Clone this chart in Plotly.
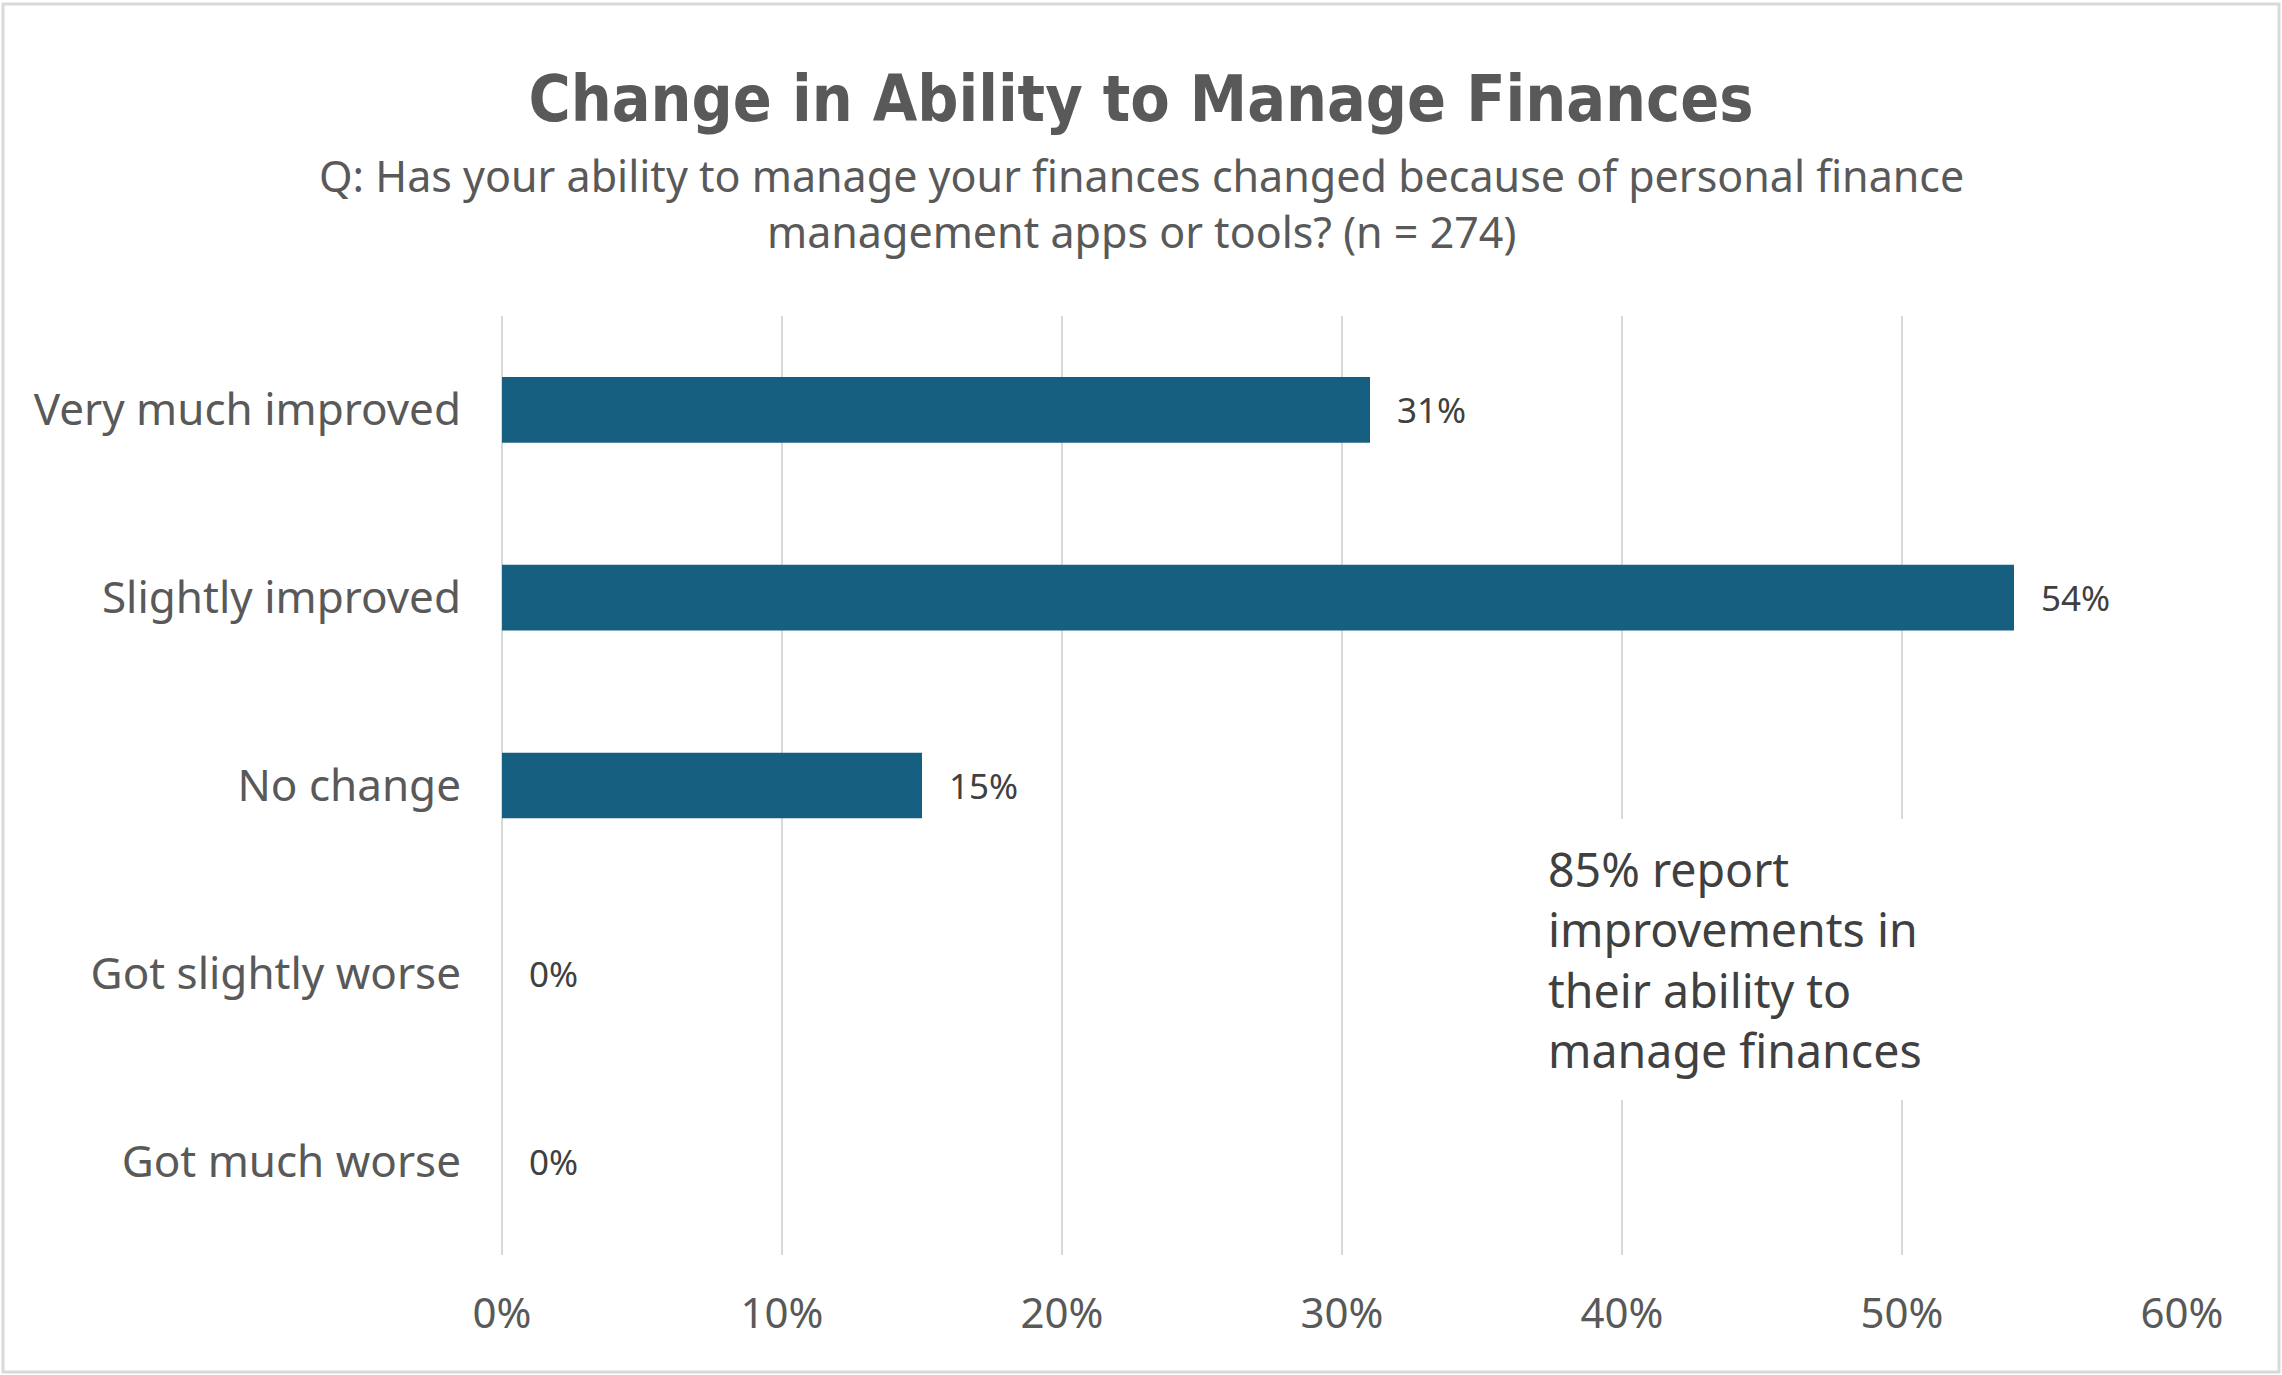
import plotly.graph_objects as go

categories = ["Very much improved", "Slightly improved", "No change", "Got slightly worse", "Got much worse"]
values = [0.31, 0.54, 0.15, 0.0, 0.0]
value_labels = ["31%", "54%", "15%", "0%", "0%"]
tick_vals = [0, 0.1, 0.2, 0.3, 0.4, 0.5, 0.6]
tick_text = ["0%", "10%", "20%", "30%", "40%", "50%", "60%"]

title_text = "Change in Ability to Manage Finances"
subtitle_text = "Q: Has your ability to manage your finances changed because of personal finance<br>management apps or tools? (n = 274)"
callout_text = "85% report<br>improvements in<br>their ability to<br>manage finances"

W, H = 2282, 1375
ML, MR, MT, MB = 502, 100, 316, 120
PW, PH = W - ML - MR, H - MT - MB

BAR = "#175F80"
GRID = "#D9D9D9"
TXT = "#595959"

fig = go.Figure()
fig.add_trace(go.Bar(
    x=values, y=categories, orientation="h",
    marker=dict(color=BAR, line=dict(width=0)),
    hoverinfo="skip",
))

for v, c, t in zip(values, categories, value_labels):
    fig.add_annotation(x=v, y=c, xref="x", yref="y", text=t, showarrow=False,
                       xanchor="left", yanchor="middle", xshift=25,
                       font=dict(family="Noto Sans", size=35, color="#404040"))

fig.add_annotation(xref="paper", yref="paper", x=(W / 2 - ML) / PW, y=(MT + PH - 203) / PH,
                   text=subtitle_text, showarrow=False, xanchor="center", yanchor="middle",
                   font=dict(family="Noto Sans", size=43, color=TXT))

fig.add_annotation(xref="paper", yref="paper", x=(1530 - ML) / PW, y=(MT + PH - 959) / PH,
                   text=callout_text, showarrow=False, xanchor="left", yanchor="middle", align="left",
                   bgcolor="white", borderpad=18, borderwidth=0,
                   font=dict(family="Noto Sans", size=46.5, color="#404040"))

# outer frame
fig.add_shape(type="rect", xref="paper", yref="paper",
              x0=(3 - ML) / PW, x1=(W - 3 - ML) / PW,
              y0=(MT + PH - (H - 3)) / PH, y1=(MT + PH - 4) / PH,
              line=dict(color=GRID, width=3), fillcolor="rgba(0,0,0,0)", layer="below")

fig.update_layout(
    width=W, height=H,
    margin=dict(l=ML, r=MR, t=MT, b=MB),
    paper_bgcolor="white", plot_bgcolor="white",
    bargap=0.65, showlegend=False,
    title=dict(text=title_text, x=0.5, xanchor="center", xref="container",
               y=1 - 99 / H, yanchor="middle", yref="container",
               font=dict(family="DejaVu Sans Condensed, sans-serif",
                         size=64, color=TXT, weight="bold")),
    xaxis=dict(range=[0, 0.6], tickvals=tick_vals, ticktext=tick_text,
               showgrid=True, gridcolor=GRID, gridwidth=2,
               zeroline=True, zerolinecolor=GRID, zerolinewidth=2,
               showline=False, ticks="", ticklabelstandoff=30,
               tickfont=dict(family="Noto Sans", size=42, color=TXT)),
    yaxis=dict(categoryorder="array", categoryarray=categories[::-1],
               showgrid=False, zeroline=False, showline=False, ticks="",
               ticklabelstandoff=40,
               tickfont=dict(family="Noto Sans", size=44, color=TXT)),
)

fig.write_html("out.html")
